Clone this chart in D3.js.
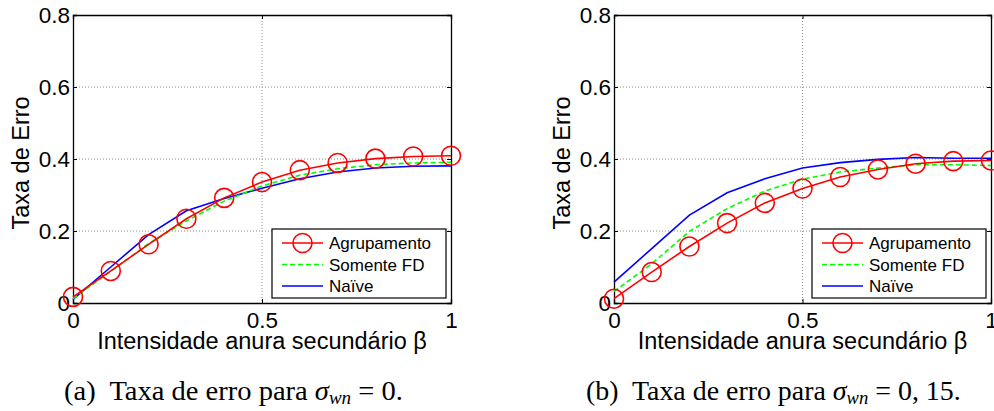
<!DOCTYPE html>
<html lang="pt">
<head>
<meta charset="UTF-8">
<title>Taxa de Erro</title>
<script src="https://cdn.jsdelivr.net/npm/d3@7"></script>
<style>
    body { margin: 0; background: #fff; }
    svg { display: block; }
    .tick-label { font-family: "Liberation Sans", Arial, sans-serif; font-size: 22.5px; }
    .axis-title { font-family: "Liberation Sans", Arial, sans-serif; font-size: 23.5px; }
    .legend-text { font-family: "Liberation Sans", Arial, sans-serif; font-size: 17px; }
    .caption { font-family: "Liberation Serif", "Times New Roman", serif; font-size: 27px; }
</style>
</head>
<body>
<svg id="chart" width="994" height="411"></svg>
<script>
// beta values (x axis)
const beta = [0, 0.1, 0.2, 0.3, 0.4, 0.5, 0.6, 0.7, 0.8, 0.9, 1.0];

// panel (a): sigma_wn = 0
const agrupamentoA = [0.017, 0.089, 0.163, 0.234, 0.292, 0.336, 0.369, 0.389, 0.401, 0.407, 0.409];
const somenteFdA   = [0.012, 0.088, 0.165, 0.228, 0.283, 0.325, 0.355, 0.373, 0.384, 0.389, 0.391];
const naiveA       = [0.010, 0.100, 0.190, 0.256, 0.290, 0.319, 0.345, 0.364, 0.375, 0.380, 0.381];

// panel (b): sigma_wn = 0,15
const agrupamentoB = [0.012, 0.086, 0.157, 0.222, 0.278, 0.318, 0.350, 0.371, 0.387, 0.394, 0.396];
const somenteFdB   = [0.032, 0.109, 0.199, 0.262, 0.311, 0.344, 0.364, 0.375, 0.384, 0.384, 0.382];
const naiveB       = [0.058, 0.151, 0.244, 0.306, 0.345, 0.375, 0.390, 0.399, 0.404, 0.402, 0.402];

const xTicks = [0, 0.5, 1];
const yTicks = [0, 0.2, 0.4, 0.6, 0.8];
const legendNames = ["Agrupamento", "Somente FD", "Naïve"];
const xTitle = "Intensidade anura secundário β";
const yTitle = "Taxa de Erro";

const svg = d3.select('#chart');
svg.append('rect').attr('width', 994).attr('height', 411).attr('fill', '#fff');

function drawPanel(left, right, series, caption) {
    const top = 15, bottom = 303;
    const x = d3.scaleLinear().domain([0, 1]).range([left, right]);
    const y = d3.scaleLinear().domain([0, 0.8]).range([bottom, top]);
    const g = svg.append('g');

    // dotted grid
    g.selectAll('.gy').data(yTicks.slice(1, -1)).enter().append('line')
        .attr('x1', left).attr('x2', right)
        .attr('y1', d => y(d)).attr('y2', d => y(d))
        .attr('stroke', '#8c8c8c').attr('stroke-width', 1).attr('stroke-dasharray', '1,2');
    g.selectAll('.gx').data(xTicks.slice(1, -1)).enter().append('line')
        .attr('y1', top).attr('y2', bottom)
        .attr('x1', d => x(d)).attr('x2', d => x(d))
        .attr('stroke', '#8c8c8c').attr('stroke-width', 1).attr('stroke-dasharray', '1,2');

    // axes (MATLAB style: inward ticks, box)
    g.append('g').attr('transform', `translate(0,${bottom})`)
        .call(d3.axisBottom(x).tickValues(xTicks).tickSize(-4).tickPadding(9).tickFormat(d3.format('')));
    g.append('g').attr('transform', `translate(0,${top})`)
        .call(d3.axisTop(x).tickValues(xTicks).tickSize(-4).tickFormat(''));
    g.append('g').attr('transform', `translate(${left},0)`)
        .call(d3.axisLeft(y).tickValues(yTicks).tickSize(-4).tickPadding(3).tickFormat(d3.format('')));
    g.append('g').attr('transform', `translate(${right},0)`)
        .call(d3.axisRight(y).tickValues(yTicks).tickSize(-4).tickFormat(''));
    g.selectAll('.domain').attr('stroke', '#000').attr('stroke-width', 1.3);
    g.selectAll('.tick line').attr('stroke', '#000');
    g.selectAll('.tick text').attr('class', 'tick-label').attr('fill', '#000');

    // lines
    const line = d3.line().x((d, i) => x(beta[i])).y(d => y(d));
    g.append('path').datum(series[2]).attr('d', line)
        .attr('fill', 'none').attr('stroke', '#0000ff').attr('stroke-width', 1.6);
    g.append('path').datum(series[1]).attr('d', line)
        .attr('fill', 'none').attr('stroke', '#00ff00').attr('stroke-width', 1.6).attr('stroke-dasharray', '5,3');
    g.append('path').datum(series[0]).attr('d', line)
        .attr('fill', 'none').attr('stroke', '#ff0000').attr('stroke-width', 1.6);
    g.selectAll('.mk').data(series[0]).enter().append('circle')
        .attr('cx', (d, i) => x(beta[i])).attr('cy', d => y(d)).attr('r', 9.5)
        .attr('fill', 'none').attr('stroke', '#ff0000').attr('stroke-width', 1.6);

    // axis titles
    g.append('text').attr('class', 'axis-title')
        .attr('x', (left + right) / 2).attr('y', 349)
        .attr('text-anchor', 'middle').text(xTitle);
    g.append('text').attr('class', 'axis-title')
        .attr('transform', `translate(${left - 44},${(top + bottom) / 2 + 4}) rotate(-90)`)
        .attr('text-anchor', 'middle').text(yTitle);

    // legend
    const lw = 174, lh = 69;
    const lx = right - 5 - lw, ly = bottom - 5 - lh;
    const lg = g.append('g').attr('transform', `translate(${lx},${ly})`);
    lg.append('rect').attr('width', lw).attr('height', lh)
        .attr('fill', '#fff').attr('stroke', '#000').attr('stroke-width', 1.2);
    const colors = ['#ff0000', '#00ff00', '#0000ff'];
    const dash = [null, '5,3', null];
    legendNames.forEach((name, i) => {
        const ry = 14 + i * 21.5;
        lg.append('line').attr('x1', 10).attr('x2', 51).attr('y1', ry).attr('y2', ry)
            .attr('stroke', colors[i]).attr('stroke-width', 1.6).attr('stroke-dasharray', dash[i]);
        if (i === 0) {
            lg.append('circle').attr('cx', 30.5).attr('cy', ry).attr('r', 9.5)
                .attr('fill', 'none').attr('stroke', colors[i]).attr('stroke-width', 1.6);
        }
        lg.append('text').attr('class', 'legend-text')
            .attr('x', 57).attr('y', ry + 6).text(name);
    });

    // caption, stretched to the width it has in the thesis layout
    const cap = svg.append('text').attr('class', 'caption');
    cap.append('tspan').text(caption.label + '\u00a0 Taxa de erro para ');
    cap.append('tspan').attr('font-style', 'italic').text('σ');
    cap.append('tspan').attr('font-style', 'italic').attr('font-size', 18).attr('dy', 4).text('wn');
    cap.append('tspan').attr('dy', -4).text(' = ' + caption.value + '.');
    const w = cap.node().getComputedTextLength();
    cap.attr('transform', `translate(${caption.x},400) scale(${caption.width / w},1)`);
}

drawPanel(73, 451, [agrupamentoA, somenteFdA, naiveA], { x: 64, width: 339, label: '(a)', value: '0' });
drawPanel(614, 991, [agrupamentoB, somenteFdB, naiveB], { x: 586, width: 375, label: '(b)', value: '0, 15' });
</script>
</body>
</html>
